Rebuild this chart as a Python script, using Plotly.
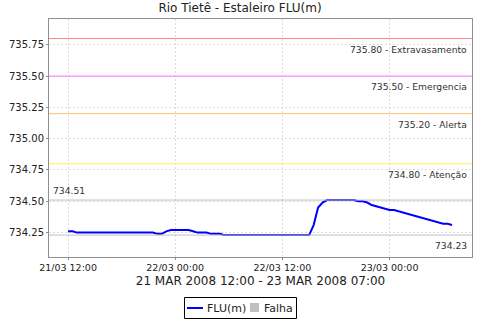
import plotly.graph_objects as go
import pandas as pd

# ---- data ----
start_time = "2008-03-21 12:00"
step_minutes = 30
levels = [
    734.26, 734.26, 734.25, 734.25, 734.25, 734.25, 734.25, 734.25, 734.25, 734.25,  # 12:00-16:30
    734.25, 734.25, 734.25, 734.25, 734.25, 734.25, 734.25, 734.25, 734.25, 734.25,  # 17:00-21:30
    734.24, 734.24, 734.26, 734.27, 734.27, 734.27, 734.27, 734.27, 734.26, 734.25,  # 22:00-02:30
    734.25, 734.25, 734.24, 734.24, 734.24, 734.23, 734.23, 734.23, 734.23, 734.23,  # 03:00-07:30
    734.23, 734.23, 734.23, 734.23, 734.23, 734.23, 734.23, 734.23, 734.23, 734.23,  # 08:00-12:30
    734.23, 734.23, 734.23, 734.23, 734.23, 734.31, 734.45, 734.49, 734.51, 734.51,  # 13:00-17:30
    734.51, 734.51, 734.51, 734.51, 734.51, 734.50, 734.50, 734.49, 734.47, 734.46,  # 18:00-22:30
    734.45, 734.44, 734.43, 734.43, 734.42, 734.41, 734.40, 734.39, 734.38, 734.37,  # 23:00-03:30
    734.36, 734.35, 734.34, 734.33, 734.32, 734.32, 734.31,                          # 04:00-07:00
]
times = pd.date_range(start_time, periods=len(levels), freq=f"{step_minutes}min")

ref_values = [735.80, 735.50, 735.20, 734.80]
ref_labels = ["735.80 - Extravasamento", "735.50 - Emergencia", "735.20 - Alerta", "734.80 - Atenção"]
ref_colors = ["#FF8888", "#FF70FF", "#FFC070", "#FFEE55"]

legend_names = ["FLU(m)", "Falha"]
series_color = "#0000FF"
falha_color = "#C0C0C0"

max_val = max(levels)
min_val = min(levels)

title_text = "Rio Tietê - Estaleiro FLU(m)"
x_title = "21 MAR 2008 12:00 - 23 MAR 2008 07:00"
x_range = ["2008-03-21 09:52", "2008-03-23 09:14"]
y_range = [734.055, 735.956]

FONT = "DejaVu Sans"
W, H = 480, 320
ML, MR, MT, MB = 49, 8, 19, 63
PW, PH = W - ML - MR, H - MT - MB


def px(x):  # pixel -> paper x
    return (x - ML) / PW


def py(y):  # pixel -> paper y
    return (H - MB - y) / PH


fig = go.Figure()
fig.add_trace(go.Scatter(x=times, y=levels, mode="lines", name=legend_names[0],
                         line=dict(color=series_color, width=2), showlegend=False))

for v, lab, c in zip(ref_values, ref_labels, ref_colors):
    fig.add_hline(y=v, line=dict(color=c, width=1))
    fig.add_annotation(x=1, xref="paper", xanchor="right", xshift=-3,
                       y=v, yref="y", yanchor="top", yshift=-3, showarrow=False,
                       text=lab, font=dict(family=FONT, size=9.2, color="#333333"))

fig.add_hline(y=max_val, line=dict(color="#C0C0C0", width=1))
fig.add_hline(y=min_val, line=dict(color="#C0C0C0", width=1))
fig.add_annotation(x=0, xref="paper", xanchor="left", xshift=2,
                   y=max_val, yref="y", yanchor="bottom", yshift=2, showarrow=False,
                   text=f"{max_val:.2f}", font=dict(family=FONT, size=9.2, color="#333333"))
fig.add_annotation(x=1, xref="paper", xanchor="right", xshift=-3,
                   y=min_val, yref="y", yanchor="top", yshift=-3, showarrow=False,
                   text=f"{min_val:.2f}", font=dict(family=FONT, size=9.2, color="#333333"))

# legend box (drawn manually to match the compact Java-style legend)
fig.add_shape(type="rect", xref="paper", yref="paper",
              x0=px(184.5), x1=px(296.5), y0=py(297.5), y1=py(318.5),
              line=dict(color="#000000", width=1), fillcolor="white")
fig.add_shape(type="line", xref="paper", yref="paper",
              x0=px(187), x1=px(203), y0=py(308), y1=py(308),
              line=dict(color=series_color, width=2))
fig.add_annotation(x=px(205), y=py(308), xref="paper", yref="paper",
                   xanchor="left", yanchor="middle", showarrow=False,
                   text=legend_names[0], font=dict(family=FONT, size=11, color="#222222"))
fig.add_shape(type="rect", xref="paper", yref="paper",
              x0=px(250), x1=px(259), y0=py(303), y1=py(312),
              line=dict(width=0), fillcolor=falha_color)
fig.add_annotation(x=px(262), y=py(308), xref="paper", yref="paper",
                   xanchor="left", yanchor="middle", showarrow=False,
                   text=legend_names[1], font=dict(family=FONT, size=11, color="#222222"))

fig.update_layout(
    width=W, height=H,
    margin=dict(l=ML, r=MR, t=MT, b=MB, autoexpand=False),
    paper_bgcolor="white", plot_bgcolor="white",
    font=dict(family=FONT, size=10, color="#222222"),
    title=dict(text=title_text, x=0.5, xanchor="center", y=0.975, yanchor="middle",
               font=dict(family=FONT, size=12, color="#222222")),
    showlegend=False,
)
fig.update_xaxes(
    range=x_range, type="date",
    tick0="2008-03-21 12:00", dtick=12 * 3600 * 1000, tickformat="%d/%m %H:%M",
    showgrid=True, gridcolor="#DCDCDC", griddash="2px,2px", gridwidth=1,
    showline=True, linecolor="#909090", linewidth=1, mirror=True,
    ticks="outside", ticklen=2, tickcolor="#909090",
    tickfont=dict(family=FONT, size=9.5, color="#222222"),
    title=dict(text=x_title, standoff=4, font=dict(family=FONT, size=12, color="#222222")),
    zeroline=False,
)
fig.update_yaxes(
    range=y_range, tick0=734.25, dtick=0.25, tickformat=".2f",
    showgrid=True, gridcolor="#DCDCDC", griddash="2px,2px", gridwidth=1,
    showline=True, linecolor="#909090", linewidth=1, mirror=True,
    ticks="outside", ticklen=2, tickcolor="#909090",
    tickfont=dict(family=FONT, size=10, color="#222222"),
    zeroline=False,
)

fig.write_html("out.html")
